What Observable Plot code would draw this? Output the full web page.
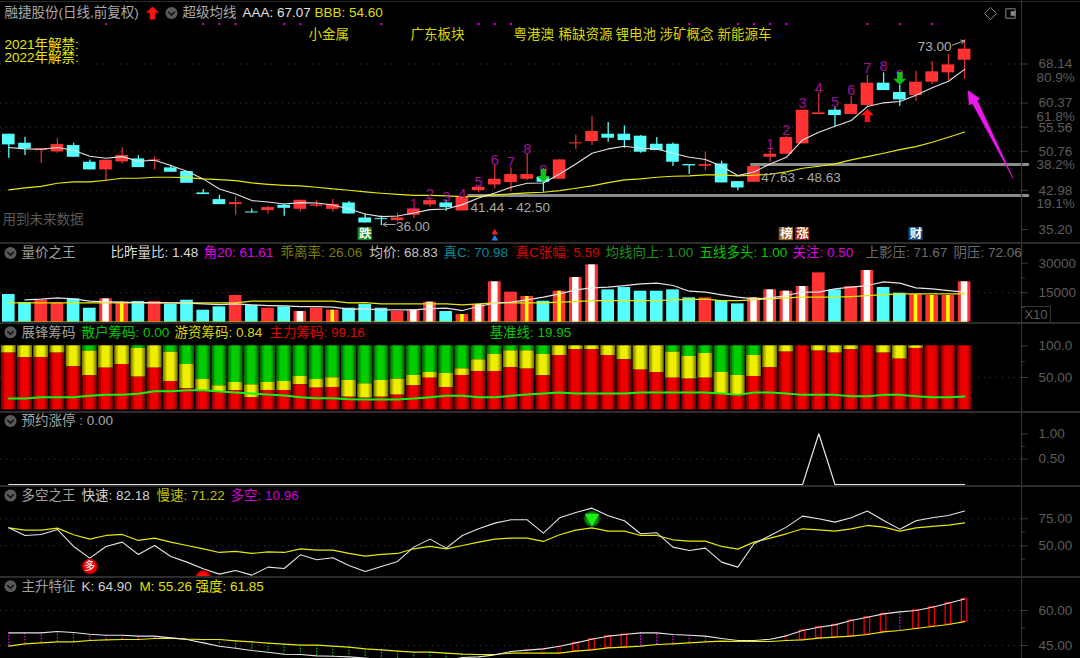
<!DOCTYPE html>
<html lang="zh">
<head>
<meta charset="utf-8">
<script src="https://cdn.jsdelivr.net/npm/d3@7"></script>
<script src="https://cdn.jsdelivr.net/npm/@observablehq/plot@0.6"></script>
<style>
html,body{margin:0;padding:0;background:#000;overflow:hidden}
#root{position:relative;width:1080px;height:658px;background:#000;overflow:hidden}
.sep{position:absolute;left:0;width:1080px;height:1.5px;background:#2c2c2c}
#x10{position:absolute;left:1021px;top:306px;width:28px;height:15px;border:1px solid #333;color:#5c5c5c;font:13px/15px "Liberation Sans",sans-serif;text-align:center}
</style>
</head>
<body>
<svg width="0" height="0" style="position:absolute">
<defs>
<linearGradient id="gRed"><stop offset="0" stop-color="#6a0000"/><stop offset=".3" stop-color="#ee0000"/><stop offset=".7" stop-color="#ee0000"/><stop offset="1" stop-color="#6a0000"/></linearGradient>
<linearGradient id="gYel"><stop offset="0" stop-color="#707000"/><stop offset=".3" stop-color="#eeee00"/><stop offset=".7" stop-color="#eeee00"/><stop offset="1" stop-color="#707000"/></linearGradient>
<linearGradient id="gGrn"><stop offset="0" stop-color="#005a00"/><stop offset=".3" stop-color="#00cc00"/><stop offset=".7" stop-color="#00cc00"/><stop offset="1" stop-color="#005a00"/></linearGradient>
<radialGradient id="gBall"><stop offset="0" stop-color="#ff2020"/><stop offset=".75" stop-color="#ee0000"/><stop offset="1" stop-color="#770000"/></radialGradient>
<radialGradient id="gBallG"><stop offset="0" stop-color="#16c016"/><stop offset=".7" stop-color="#0a8a0a"/><stop offset="1" stop-color="#044a04"/></radialGradient>
</defs>
</svg>
<div id="root"></div>
<script>
// ---------- K line ----------
const open=[54.16,52.37,50.91,50.64,51.91,48.59,47.06,48.65,49.25,48.85,47.46,46.73,42.48,41.15,40.15,38.69,38.96,40.02,39.22,39.82,39.22,40.48,37.50,37.36,36.97,38.03,40.09,40.48,38.89,42.94,44.07,44.54,45.20,45.60,45.20,52.24,52.70,54.16,54.16,53.77,52.17,52.17,48.12,47.79,48.25,44.73,44.60,49.58,50.18,52.24,58.08,58.94,58.08,59.87,64.32,62.46,61.87,64.52,66.38,68.90];
const close=[52.04,51.24,51.24,52.11,49.58,47.06,48.98,49.92,47.52,49.05,46.59,44.40,42.15,40.15,40.55,38.49,39.56,39.42,41.02,40.09,40.22,38.29,36.50,37.16,37.50,39.29,40.95,39.55,41.61,43.61,45.20,46.13,46.13,44.60,49.05,52.44,54.70,53.37,52.90,50.58,50.91,48.59,47.86,48.12,44.47,43.47,47.72,50.18,53.50,58.94,58.41,57.88,60.07,64.32,62.86,61.00,64.52,66.58,67.97,71.10];
const high=[54.16,53.57,51.37,53.30,52.37,49.05,48.98,51.51,49.92,49.71,47.99,46.73,43.14,42.01,41.75,39.29,39.82,40.29,41.02,40.95,41.15,40.75,38.29,37.90,38.43,39.29,41.48,41.08,41.61,43.94,47.92,47.46,50.11,47.26,49.05,53.96,57.62,56.49,55.82,53.90,53.50,52.44,48.12,50.64,48.79,44.73,47.72,51.24,53.70,58.94,62.33,59.41,61.67,65.92,66.38,63.92,66.65,68.64,70.03,73.00];
const low=[49.38,49.92,48.39,50.38,49.58,47.06,44.93,48.25,47.52,47.06,46.59,44.40,42.15,40.15,38.03,38.49,38.29,37.83,38.69,39.62,38.69,38.29,36.50,36.00,36.70,37.36,39.62,38.83,38.89,42.48,43.27,42.68,44.93,42.61,45.20,51.11,51.91,52.57,51.37,50.38,50.91,47.72,46.13,46.93,44.47,42.94,44.60,48.59,50.18,52.24,58.08,55.69,58.08,59.41,62.86,59.67,60.74,64.06,64.85,65.05];
const aaa=[51.51,51.24,51.18,51.51,50.98,49.78,49.38,49.71,48.79,48.98,47.92,46.79,45.27,43.27,42.28,40.95,40.68,40.29,40.55,40.48,40.09,39.29,38.29,37.76,37.90,38.49,39.16,39.29,40.15,41.48,42.48,43.61,44.40,44.47,46.26,48.25,50.38,51.24,51.77,51.37,51.24,50.38,49.58,49.12,47.79,45.93,46.66,48.25,49.58,53.03,54.56,55.76,56.89,59.67,60.41,60.67,61.93,63.39,64.72,67.07];
const bbb=[43.07,43.47,43.80,44.40,44.67,44.67,45.00,45.40,45.40,45.60,45.60,45.53,45.27,45.13,44.93,44.47,44.20,44.00,43.87,43.61,43.27,43.01,42.68,42.41,42.21,42.01,42.01,41.88,41.75,41.81,42.08,42.28,42.48,42.61,42.94,43.41,43.87,44.54,45.07,45.27,45.60,45.80,45.86,46.06,46.06,45.86,46.00,46.20,46.66,47.39,47.79,48.25,49.05,49.71,50.38,51.11,51.71,52.57,53.57,54.60];
const priceTicks=[68.14,60.37,55.56,50.76,42.98,35.20];
const priceGrid=[68.14,60.37,55.56,50.76,42.98];
const fibLabels=["80.9%","61.8%","38.2%","19.1%"];
const fibPrices=[65.51,57.68,48.18,40.35];
const alertIdx=[6,12,13,14,17,18,23,29,30,31,42,45,46,47,48,53,55,57];
const countA=[40.29,42.28,41.61,42.28,44.60,48.92,48.65,51.11,46.93];
const countB=[52.24,54.89,60.21,63.39,60.54,62.86,67.31,67.71,65.85];
const sectors=["小金属","广东板块","粤港澳","稀缺资源","锂电池","涉矿概念","新能源车"];
const sectorX=[308,410,513,558,615,659,717];
const arrowI=[59.2,59.94,59.78,62.0,59.5,59.26];
const arrowP=[62.86,61.21,60.87,45.33,60.21,60.07];
// ---------- volume ----------
const vol=[14070,10000,11190,9660,11865,7120,11865,10170,10510,10510,9150,11190,6100,7800,13560,8475,7120,7800,5420,7120,6100,7120,8980,7120,5420,6270,10170,5420,3900,8980,20510,15255,13050,10680,15760,22710,29150,16440,17630,15760,15760,16440,12370,12370,11020,9320,12370,16440,15760,18140,25090,16440,18140,26270,17630,14750,14070,13560,13560,20510];
const volStyle="ccrrccwycrccccrcrcwryc"+"ccr"+"ww"+"c"+"y"+"ww"+"r"+"y"+"c"+"y"+"ww"+"cccccc"+"r"+"cc"+"wwww"+"rcrwcc"+"yyyw";
const volMA1=[null,11357,11696,12374,11865,10679,10340,10170,10000,10000,9831,9662,9323,8984,9323,8814,8475,8306,7967,7967,7628,6611,6780,6272,6272,6272,6950,7119,5933,7967,9662,10170,11357,12713,14408,16442,17459,17798,18645,19493,19832,18645,15764,15255,13899,12713,11865,12374,13560,15255,15255,16950,17798,18645,20510,19832,17459,16950,16103,15255];
const volMA2=[9831,9831,9831,9831,9831,9831,9831,9831,9831,9831,9831,9831,9831,9831,9831,10679,10679,10679,10679,10679,10679,9831,10000,9323,9323,9323,9323,9323,8814,9323,9831,9831,9831,9831,10170,10509,11018,11018,11018,11018,11018,11357,11526,11696,11018,11018,11357,11865,12374,12713,12713,12713,13052,13560,14069,14408,14408,14408,14408,14408];
// ---------- chips ----------
const chipMain=[88.4,81.1,81.6,88.4,66.8,52.6,64.7,70.5,50.5,64.7,43.7,32.6,29.5,26.3,29.5,17.9,29.5,29.5,38.4,33.2,34.2,18.9,17.4,18.9,22.1,36.8,48.9,34.2,53.2,59.5,59.5,65.3,63.2,52.6,84.7,93.7,93.7,84.7,77.9,61.6,57.9,48.9,47.4,48.9,24.2,21.1,51.6,65.3,90,100,91.6,88.4,93.7,100,88.4,78.9,95.8,100,100,100];
const chipHot=[100,100,100,100,100,91.6,100,100,95.8,100,90,70.5,46.8,36.8,42.1,38.4,42.1,43.7,51.6,46.8,49.5,45.3,40,45.3,47.4,53.2,57.9,56.3,63.7,77.9,86.3,92.1,92.1,86.3,100,100,100,100,100,100,100,90,83.2,87.9,57.9,53.2,84.7,100,100,100,100,100,100,100,100,100,100,100,100,100];
const chipBase=[16.8,16.8,18.9,18.9,18.9,21.1,22.6,22.6,24.2,28.4,28.4,30,30,27.9,26.3,24.7,23.2,21.6,18.9,17.4,17.4,15.8,15.3,15.3,15.3,16.8,18.9,21.1,21.1,18.9,18.9,21.1,23.2,24.7,26.3,24.7,24.7,24.7,24.7,26.3,26.3,26.3,26.3,26.3,24.7,22.6,26.3,26.3,24.7,22.6,22.6,22.6,20.5,20.5,22.6,22.6,20.5,18.9,18.9,19.95];
// ---------- limit-up watch ----------
const watch=[0,0,0,0,0,0,0,0,0,0,0,0,0,0,0,0,0,0,0,0,0,0,0,0,0,0,0,0,0,0,0,0,0,0,0,0,0,0,0,0,0,0,0,0,0,0,0,0,0,0,1,0,0,0,0,0,0,0,0,0];
// ---------- long/short ----------
const fast=[66.67,59.57,60.50,65.12,49.39,38.58,49.39,53.40,41.98,50.31,40.13,34.88,28.71,23.77,27.17,22.85,30.25,29.02,41.67,37.04,38.89,31.80,26.24,30.87,35.50,48.77,56.18,47.84,59.57,65.74,70.99,74.07,74.07,61.73,75.93,80.86,84.88,77.78,73.15,61.11,62.04,48.77,45.68,47.84,34.88,30.25,51.86,59.57,67.29,77.47,75.00,71.91,75.93,82.18,73.46,65.43,73.15,75.93,78.09,82.18];
const slow=[66.67,64.51,64.51,66.36,60.19,56.18,59.57,60.50,54.94,57.10,53.40,50.31,47.23,43.83,44.76,42.91,44.45,43.83,47.23,45.99,45.99,42.91,40.44,41.98,42.91,47.23,49.39,47.23,50.31,53.40,56.18,57.10,57.10,54.02,60.19,64.51,66.67,63.58,63.58,59.57,59.57,55.56,54.32,54.32,49.39,46.92,53.40,57.10,61.11,65.74,64.82,63.58,65.74,68.83,67.29,63.58,66.67,67.90,69.14,71.22];
const ballIdx=[5,12];
const ballVal=[30.9,20.1];
// ---------- main rise ----------
const kLine=[50.42,50.42,50.42,50.99,50.57,49.85,49.42,49.42,49.0,49.0,48.28,47.57,46.14,44.71,43.85,42.85,42.14,41.28,41.14,40.57,40.42,40.14,39.57,39.0,38.28,37.85,37.85,38.57,39.85,40.14,41.0,42.42,43.0,43.57,44.71,46.14,47.71,49.0,49.71,50.42,50.42,49.71,49.42,49.0,48.0,47.14,47.14,47.71,49.14,51.42,52.85,53.85,55.71,57.14,58.57,59.42,60.0,61.42,63.14,64.90];
const mLine=[44.71,45.71,46.14,46.57,46.57,47.14,47.43,47.57,47.57,48.0,48.14,47.71,47.57,47.57,47.0,46.57,46.0,45.57,45.14,45.14,44.71,44.28,43.57,43.14,42.57,42.14,42.14,41.71,41.28,41.14,41.14,41.71,41.71,41.71,41.71,42.57,43.14,44.0,44.28,44.71,45.42,45.71,46.14,46.57,46.85,46.71,46.71,46.71,47.14,47.43,48.14,48.57,49.0,49.71,50.85,51.42,52.28,53.14,54.0,55.26];
const magentaIdx=[0,1,2,3,4,5,6,7,8,9,39,40,41,42,43,55];
const greenIdx=[12,13,14,15,16,17,18,19,20,21,22,23,24,25,26,27,28,29];
const thinIdx=[32,33,34,48];
const boxIdx=[35,36,37,38,49,50,51,52,53,54,56,57,58,59];

// ---------- helpers ----------
const FONT='"Liberation Sans","Noto Sans CJK SC",sans-serif';
const CJK='"Noto Sans CJK SC","Liberation Sans",sans-serif';
const RED="#ff3333",CYAN="#55fdfd",YEL="#e8e800",WHT="#e4e4e4",AX="#5c5c5c",GRID="#3c3c3c";
const idx=d3.range(60);
const root=document.getElementById("root");
function panel(top,height,domain,range,marks){
  const svg=Plot.plot({width:1080,height,marginTop:0,marginBottom:0,marginLeft:0,marginRight:59,
    x:{type:"linear",domain:[0,59],range:[8.3,964.1],axis:null},
    y:{type:"linear",domain,range,axis:null},
    style:{background:"#000",fontFamily:FONT,position:"absolute",top:top+"px",left:"0px",display:"block"},
    marks});
  root.append(svg);
}
const label=(text,x,y,fill,size=13.5)=>Plot.text([text],{frameAnchor:"top-left",dx:x,dy:y,lineAnchor:"middle",textAnchor:"start",fill,fontSize:size,fontFamily:FONT});
const arrowSym=dir=>({draw(c,s){const r=Math.sqrt(s/Math.PI);
  c.moveTo(0,-r*dir);c.lineTo(r,-r*.05*dir);c.lineTo(r*.42,-r*.05*dir);c.lineTo(r*.42,r*dir);c.lineTo(-r*.42,r*dir);c.lineTo(-r*.42,-r*.05*dir);c.lineTo(-r,-r*.05*dir);c.closePath();}});
const chevron={draw(c,s){const r=Math.sqrt(s/Math.PI);c.moveTo(-r*.55,-r*.2);c.lineTo(0,r*.35);c.lineTo(r*.55,-r*.2);}};
const collapse=(y,x=10)=>[
  Plot.dot([0],{frameAnchor:"top-left",dx:x,dy:y,r:6,fill:"#5a5a5a"}),
  Plot.dot([0],{frameAnchor:"top-left",dx:x,dy:y,r:6,symbol:chevron,fill:"none",stroke:"#111",strokeWidth:1.6})
];
const grid=t=>Plot.ruleY(t,{stroke:GRID,strokeDasharray:"1 5"});
const axis=(ticks,fmt,padding=11)=>Plot.axisY(ticks,{anchor:"right",tickSize:6,tickPadding:padding,stroke:"#3a3a3a",fill:AX,fontSize:13.5,tickFormat:fmt,label:null});
const minor=t=>Plot.axisY(t,{anchor:"right",tickSize:3,stroke:"#3a3a3a",tickFormat:()=>"",label:null});
const edge=Plot.frame({anchor:"right",stroke:"#333",strokeWidth:1.2});
const line=(a,stroke,w=1.1)=>Plot.line(a,{x:(d,i)=>i,y:d=>d,stroke,strokeWidth:w,strokeLinejoin:"round"});

// ---------- main panel ----------
const tag=(i,ch,bg)=>[
  Plot.rect([i],{x1:d=>d-.44,x2:d=>d+.44,y1:35.57,y2:32.98,fill:bg}),
  Plot.text([ch],{x:i,y:34.3,fill:"#fff",fontSize:12.5,fontWeight:"bold",fontFamily:CJK})
];
panel(0,242,[35.20,68.14],[229,63.5],[
  grid(priceGrid),
  Plot.ruleY([41.97],{x1:28.35,x2:63,stroke:"#8c8c8c",strokeWidth:3}),
  Plot.ruleY([48.13],{x1:45.8,x2:63,stroke:"#8c8c8c",strokeWidth:3}),
  Plot.ruleX(idx,{x:i=>i,y1:i=>low[i],y2:i=>high[i],stroke:i=>close[i]>=open[i]?"#d83030":CYAN,strokeWidth:1.3}),
  Plot.rect(idx,{x1:i=>i-.39,x2:i=>i+.39,y1:i=>open[i],y2:i=>close[i],fill:i=>close[i]>=open[i]?RED:CYAN}),
  line(bbb,YEL,1.2),
  line(aaa,WHT,1.1),
  Plot.dot(alertIdx,{x:d=>d,frameAnchor:"top",dy:23.5,r:1.1,fill:"#ff00ff"}),
  Plot.text(countA,{x:(d,i)=>25+i,y:d=>d,text:(d,i)=>String(i+1),fill:"#a3109b",fontSize:14.5}),
  Plot.text(countB,{x:(d,i)=>47+i,y:d=>d,text:(d,i)=>String(i+1),fill:"#a3109b",fontSize:14.5}),
  Plot.dot([33],{x:d=>d,y:45.93,r:6.5,symbol:arrowSym(-1),fill:"#12c012"}),
  Plot.dot([55],{x:d=>d,y:65.25,r:6.5,symbol:arrowSym(-1),fill:"#12c012"}),
  Plot.dot([53],{x:d=>d,y:57.88,r:6.5,symbol:arrowSym(1),fill:"#ff1010"}),
  Plot.text(["73.00"],{x:58.2,y:71.63,textAnchor:"end",fill:"#b0b0b0",fontSize:13.5}),
  Plot.arrow([0],{x1:58.25,y1:71.9,x2:59.0,y2:72.75,stroke:"#b0b0b0",strokeWidth:1,headLength:6}),
  Plot.text(["36.00"],{x:23.9,y:35.85,textAnchor:"start",fill:"#a8a8a8",fontSize:13.5}),
  Plot.arrow([0],{x1:23.85,y1:36.2,x2:23.1,y2:36.2,stroke:"#a8a8a8",strokeWidth:1,headLength:6}),
  Plot.text(["41.44 - 42.50"],{x:28.5,y:39.55,textAnchor:"start",fill:"#a8a8a8",fontSize:13.5}),
  Plot.text(["47.63 - 48.63"],{x:46.45,y:45.53,textAnchor:"start",fill:"#a8a8a8",fontSize:13.5}),
  Plot.line(arrowI.map((d,i)=>[d,arrowP[i]]),{x:d=>d[0],y:d=>d[1],fill:"#ee18ee",stroke:"#ee18ee",strokeWidth:.6}),
  ...tag(22,"跌","#0a8a1a"),
  ...tag(48,"榜","#9a5a14"),
  ...tag(49,"涨","#8a1c1c"),
  ...tag(56,"财","#174a80"),
  Plot.dot([30],{x:d=>d,y:34.6,r:3.2,symbol:"triangle2",fill:"#ee2020"}),
  Plot.dot([30],{x:d=>d,y:33.4,r:3.2,symbol:"triangle2",fill:"#2a80e8"}),
  axis(priceTicks,d=>d.toFixed(2)),
  Plot.text(fibLabels,{frameAnchor:"right",y:(d,i)=>fibPrices[i],dx:15,textAnchor:"start",fill:AX,fontSize:13.5}),
  edge,
  label("融捷股份(日线,前复权)",4,12.5,"#a8a8a8"),
  Plot.dot([0],{frameAnchor:"top-left",dx:152,dy:12.5,r:6.5,symbol:arrowSym(1),fill:"#ff1010"}),
  ...collapse(12.5,171),
  label("超级均线",182,12.5,"#a8a8a8"),
  label("AAA: 67.07",242,12.5,"#e0e0e0"),
  label("BBB: 54.60",314,12.5,"#dede00"),
  ...sectors.map((s,i)=>label(s,sectorX[i],34,"#d8d800")),
  label("2021年解禁:",4,44,"#e8e800"),
  label("2022年解禁:",4,57,"#e8e800"),
  label("用到未来数据",2,219.5,"#5a5a5a"),
  Plot.dot([0],{frameAnchor:"top-left",dx:990,dy:13,r:5.5,symbol:"diamond2",fill:"none",stroke:"#888",strokeWidth:1}),
  Plot.dot([0],{frameAnchor:"top-left",dx:1010,dy:13,r:6,symbol:"square2",fill:"none",stroke:"#888",strokeWidth:1}),
  Plot.dot([0],{frameAnchor:"top-left",dx:1012.5,dy:13,r:3,symbol:"square2",fill:"#888"})
]);
// ---------- volume panel ----------
panel(242,80,[0,30000],[79.7,20.7],[
  grid([15000]),
  Plot.rect(idx,{x1:i=>i-.39,x2:i=>i+.39,y1:0,y2:i=>vol[i],fill:i=>volStyle[i]==="c"?CYAN:RED}),
  Plot.rect(idx.filter(i=>volStyle[i]==="w"),{x1:i=>i-.2,x2:i=>i+.2,y1:0,y2:i=>vol[i],fill:"#fff"}),
  Plot.rect(idx.filter(i=>volStyle[i]==="y"),{x1:i=>i-.11,x2:i=>i+.11,y1:0,y2:i=>vol[i],fill:"#ffff00"}),
  line(volMA2,YEL,1.2),
  line(volMA1,WHT,1.2),
  Plot.ruleY([0],{x1:.4,x2:59,stroke:YEL,strokeWidth:1.3}),
  axis([30000,15000],d=>String(d)),
  minor([22500,7500]),
  edge,
  ...collapse(10.5),
  label("量价之王",21,10.5,"#a0a0a0"),
  label("比昨量比: 1.48",110,10.5,"#d8d8d8"),
  label("角20: 61.61",203,10.5,"#e000e0"),
  label("乖离率: 26.06",280,10.5,"#7c7c00"),
  label("均价: 68.83",369,10.5,"#c0c0c0"),
  label("真C: 70.98",443,10.5,"#00899a"),
  label("真C张幅: 5.59",515,10.5,"#d80000"),
  label("均线向上: 1.00",605,10.5,"#1f8f1f"),
  label("五线多头: 1.00",699,10.5,"#00c800"),
  label("关注: 0.50",792,10.5,"#e000e0"),
  label("上影压: 71.67",865,10.5,"#6c6c6c"),
  label("阴压: 72.06",953,10.5,"#6c6c6c")
]);
// ---------- chips panel ----------
panel(322,89,[0,100],[86.7,23.3],[
  grid([50]),
  Plot.rect(idx,{x1:i=>i-.46,x2:i=>i+.46,y1:i=>chipHot[i],y2:100,fill:"url(#gGrn)"}),
  Plot.rect(idx,{x1:i=>i-.46,x2:i=>i+.46,y1:i=>chipMain[i],y2:i=>chipHot[i],fill:"url(#gYel)"}),
  Plot.rect(idx,{x1:i=>i-.46,x2:i=>i+.46,y1:-1,y2:i=>chipMain[i],fill:"url(#gRed)"}),
  line(chipBase,"#12f512",2),
  axis([100,50],d=>d.toFixed(d===100?1:2)),
  minor([75]),
  edge,
  ...collapse(9.7),
  label("展锋筹码",21,9.7,"#a0a0a0"),
  label("散户筹码: 0.00",81,9.7,"#00c800"),
  label("游资筹码: 0.84",174,9.7,"#d8d800"),
  label("主力筹码: 99.16",269,9.7,"#e00000"),
  label("基准线: 19.95",489,9.7,"#00c800")
]);
// ---------- limit-up watch panel ----------
panel(411,74,[0,1],[73,22.3],[
  grid([.5]),
  line(watch,WHT,1.2),
  axis([1,.5],d=>d.toFixed(2)),
  minor([.75]),
  edge,
  ...collapse(9.5),
  label("预约涨停 : 0.00",21,9.5,"#a8a8a8")
]);
// ---------- long/short panel ----------
panel(485,91,[50,75],[60.3,33.3],[
  grid([75,50]),
  line(slow,YEL,1.2),
  line(fast,WHT,1.1),
  Plot.dot(ballIdx,{x:d=>d,y:(d,i)=>ballVal[i],r:8,fill:"url(#gBall)"}),
  Plot.text(["多"],{x:ballIdx[0],y:ballVal[0],fill:"#fff",fontSize:11,fontFamily:CJK}),
  Plot.dot([36],{x:d=>d,y:75,r:8,fill:"url(#gBallG)"}),
  Plot.dot([36],{x:d=>d,y:75.8,r:7,symbol:"triangle2",rotate:180,fill:"#18f018"}),
  axis([75,50],d=>d.toFixed(2)),
  minor([62.5,37.5]),
  edge,
  ...collapse(10),
  label("多空之王",21,10,"#a0a0a0"),
  label("快速: 82.18",81,10,"#d0d0d0"),
  label("慢速: 71.22",156,10,"#c0c000"),
  label("多空: 10.96",230,10,"#d000d0")
]);
// ---------- main rise panel ----------
panel(576,82,[45,60],[69,34],[
  grid([60,45]),
  Plot.ruleX(magentaIdx,{x:d=>d,y1:i=>mLine[i],y2:i=>kLine[i],stroke:"#ff00ff",strokeWidth:1.2,strokeDasharray:"1.5 1.5"}),
  Plot.ruleX(greenIdx,{x:d=>d,y1:i=>mLine[i],y2:i=>kLine[i],stroke:"#00c000",strokeWidth:1.2,strokeDasharray:"1.5 1.5"}),
  Plot.rect(thinIdx,{x1:i=>i-.07,x2:i=>i+.07,y1:i=>mLine[i],y2:i=>kLine[i],fill:"none",stroke:"#e00000",strokeWidth:1,strokeDasharray:"1.5 1"}),
  Plot.rect(boxIdx,{x1:i=>i-.17,x2:i=>i+.17,y1:i=>mLine[i],y2:i=>kLine[i],fill:"none",stroke:"#f00000",strokeWidth:1.3}),
  line(mLine,YEL,1.2),
  line(kLine,WHT,1.1),
  axis([60,45],d=>d.toFixed(2)),
  minor([52.5]),
  edge,
  ...collapse(9.7),
  label("主升特征",21,9.7,"#a0a0a0"),
  label("K: 64.90",81,9.7,"#d0d0d0"),
  label("M: 55.26",139,9.7,"#e0e000"),
  label("强度: 61.85",195,9.7,"#e0e000")
]);
// separators and the volume unit box
[0.5,242,322,411,485,576].forEach(t=>{const d=document.createElement("div");d.className="sep";d.style.top=t+"px";root.append(d);});
const x10=document.createElement("div");x10.id="x10";x10.textContent="X10";root.append(x10);
</script>
</body>
</html>
